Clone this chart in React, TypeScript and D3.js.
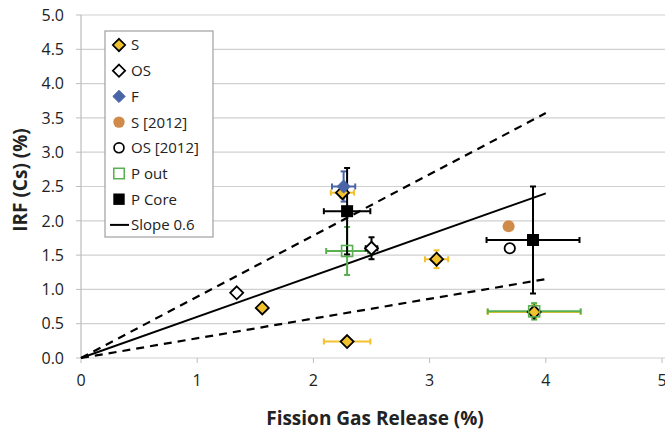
import React from "react";
import * as d3 from "d3";

const W = 665, H = 432;
const M = { left: 81, top: 15, right: 0, bottom: 74 };

const xTicks = [0, 1, 2, 3, 4, 5];
const yTicks = [0, 0.5, 1, 1.5, 2, 2.5, 3, 3.5, 4, 4.5, 5];

// [x, y, xErr, yErr]
const sData = [[1.56, 0.73, 0, 0], [2.29, 0.24, 0.2, 0], [3.06, 1.44, 0.1, 0.13], [3.9, 0.67, 0.4, 0.1], [2.25, 2.41, 0.1, 0.08]];
const osData = [[1.34, 0.95, 0, 0], [2.5, 1.6, 0.05, 0.16]];
const fData = [[2.26, 2.5, 0.1, 0.22]];
const s2012Data = [[3.68, 1.92]];
const os2012Data = [[3.69, 1.6]];
const pOutData = [[2.29, 1.56, 0.18, 0.35], [3.9, 0.68, 0.4, 0.12]];
const pCoreData = [[2.29, 2.14, 0.2, 0.63], [3.89, 1.72, 0.4, 0.78]];
const slopeLine = [[0, 0], [4, 2.4]];
const upperLine = [[0, 0], [4, 3.57]];
const lowerLine = [[0, 0], [4, 1.15]];

const legendItems = ["S", "OS", "F", "S [2012]", "OS [2012]", "P out", "P Core", "Slope 0.6"];

const FONT = "'Open Sans', Lato, sans-serif";
const GOLD = "#F2C12E";
const BLUE = "#4A64A8";
const ORANGE = "#D08A4A";
const GREEN = "#58B050";

const x = d3.scaleLinear().domain([0, 5]).range([M.left, 662]);
const y = d3.scaleLinear().domain([0, 5]).range([358, M.top]);
const line = d3.line<number[]>().x(d => x(d[0])).y(d => y(d[1]));

function Marker({ kind, cx, cy }: { kind: string; cx: number; cy: number }) {
  const d = 6.5;
  const diamond = `M${cx},${cy - d}L${cx + d},${cy}L${cx},${cy + d}L${cx - d},${cy}Z`;
  if (kind === "S") return <path d={diamond} fill={GOLD} stroke="#000" strokeWidth={1.8} />;
  if (kind === "OS") return <path d={diamond} fill="#fff" stroke="#000" strokeWidth={1.8} />;
  if (kind === "F") return <path d={diamond} fill={BLUE} stroke={BLUE} strokeWidth={1} />;
  if (kind === "S2012") return <circle cx={cx} cy={cy} r={6} fill={ORANGE} />;
  if (kind === "OS2012") return <circle cx={cx} cy={cy} r={5.2} fill="#fff" stroke="#000" strokeWidth={1.8} />;
  if (kind === "POUT") return <rect x={cx - 5.5} y={cy - 5.5} width={11} height={11} fill="none" stroke={GREEN} strokeWidth={1.6} />;
  if (kind === "PCORE") return <rect x={cx - 6} y={cy - 6} width={12} height={12} fill="#000" />;
  return null;
}

function ErrBars({ data, color }: { data: number[][]; color: string }) {
  return (
    <g stroke={color} strokeWidth={2}>
      {data.map((p, i) => {
        const [px, py, ex, ey] = p;
        const cx = x(px), cy = y(py);
        return (
          <g key={i}>
            {ex > 0 && <>
              <line x1={x(px - ex)} x2={x(px + ex)} y1={cy} y2={cy} />
              <line x1={x(px - ex)} x2={x(px - ex)} y1={cy - 3} y2={cy + 3} />
              <line x1={x(px + ex)} x2={x(px + ex)} y1={cy - 3} y2={cy + 3} />
            </>}
            {ey > 0 && <>
              <line x1={cx} x2={cx} y1={y(py - ey)} y2={y(py + ey)} />
              <line x1={cx - 3} x2={cx + 3} y1={y(py - ey)} y2={y(py - ey)} />
              <line x1={cx - 3} x2={cx + 3} y1={y(py + ey)} y2={y(py + ey)} />
            </>}
          </g>
        );
      })}
    </g>
  );
}

export default function App() {
  const legendKinds = ["S", "OS", "F", "S2012", "OS2012", "POUT", "PCORE", "LINE"];
  return (
    <svg width={W} height={H} style={{ position: "absolute", left: 0, top: 0, background: "#fff" }} fontFamily={FONT}>
      <rect width={W} height={H} fill="#fff" />
      {yTicks.map(t => (
        <g key={t}>
          <line x1={x(0)} x2={W} y1={y(t)} y2={y(t)} stroke="#d0d0d0" strokeWidth={1.2} />
          <line x1={x(0) - 5} x2={x(0)} y1={y(t)} y2={y(t)} stroke="#bdbdbd" />
          <text x={64} y={y(t)} dy="0.36em" textAnchor="end" fontSize={16} fill="#222">{t.toFixed(1)}</text>
        </g>
      ))}
      <line x1={x(0)} x2={x(0)} y1={y(5)} y2={y(0)} stroke="#bdbdbd" strokeWidth={1.2} />
      {xTicks.map(t => (
        <g key={t}>
          <line x1={x(t)} x2={x(t)} y1={y(0)} y2={y(0) + 5} stroke="#bdbdbd" />
          <text x={x(t)} y={386} textAnchor="middle" fontSize={16} fill="#222">{t}</text>
        </g>
      ))}
      <text x={375} y={425} textAnchor="middle" fontSize={19} fontWeight="bold" fill="#222">Fission Gas Release (%)</text>
      <text transform={`translate(27,${180}) rotate(-90)`} textAnchor="middle" fontSize={19} fontWeight="bold" fill="#222">IRF (Cs) (%)</text>

      <path d={line(upperLine) || ""} stroke="#000" strokeWidth={2.2} strokeDasharray="8,6" fill="none" />
      <path d={line(lowerLine) || ""} stroke="#000" strokeWidth={2.2} strokeDasharray="8,6" fill="none" />
      <path d={line(slopeLine) || ""} stroke="#000" strokeWidth={2} fill="none" />

      <ErrBars data={sData} color={GOLD} />
      <ErrBars data={pOutData} color={GREEN} />
      <ErrBars data={fData} color={BLUE} />
      <ErrBars data={osData} color="#000" />
      <ErrBars data={pCoreData} color="#000" />

      {sData.map((p, i) => <Marker key={"s" + i} kind="S" cx={x(p[0])} cy={y(p[1])} />)}
      {osData.map((p, i) => <Marker key={"o" + i} kind="OS" cx={x(p[0])} cy={y(p[1])} />)}
      {fData.map((p, i) => <Marker key={"f" + i} kind="F" cx={x(p[0])} cy={y(p[1])} />)}
      {s2012Data.map((p, i) => <Marker key={"s2" + i} kind="S2012" cx={x(p[0])} cy={y(p[1])} />)}
      {os2012Data.map((p, i) => <Marker key={"o2" + i} kind="OS2012" cx={x(p[0])} cy={y(p[1])} />)}
      {pCoreData.map((p, i) => <Marker key={"pc" + i} kind="PCORE" cx={x(p[0])} cy={y(p[1])} />)}
      {pOutData.map((p, i) => <Marker key={"po" + i} kind="POUT" cx={x(p[0])} cy={y(p[1])} />)}

      <rect x={105} y={31} width={108} height={206} fill="#fff" stroke="#a0a0a0" strokeWidth={1.2} />
      {legendItems.map((lab, i) => {
        const ly = 45 + i * 25.7;
        const k = legendKinds[i];
        return (
          <g key={lab}>
            {k === "LINE"
              ? <line x1={110} x2={129} y1={ly} y2={ly} stroke="#000" strokeWidth={2} />
              : <g transform={`translate(${119},${ly}) scale(0.95) translate(${-119},${-ly})`}><Marker kind={k} cx={119} cy={ly} /></g>}
            <text x={131} y={ly} dy="0.36em" fontSize={15} fill="#222">{lab}</text>
          </g>
        );
      })}
    </svg>
  );
}
